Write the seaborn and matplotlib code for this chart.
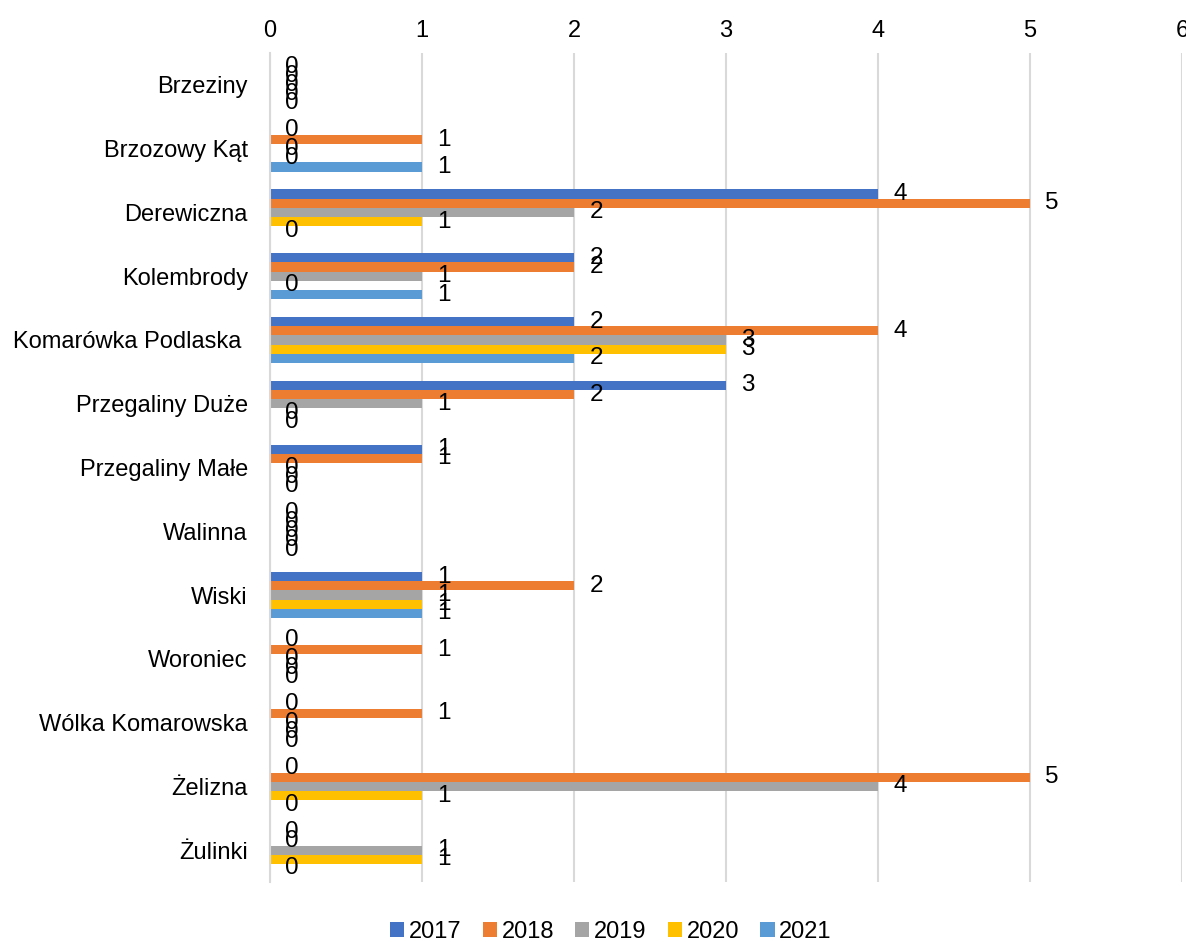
import matplotlib.pyplot as plt
import numpy   as np
import pandas  as pd
import seaborn as sns

# Values
villages = ['Brzeziny', 'Brzozowy Kąt', 'Derewiczna', 'Kolembrody',
            'Komarówka Podlaska ', 'Przegaliny Duże', 'Przegaliny Małe',
            'Walinna', 'Wiski', 'Woroniec', 'Wólka Komarowska',
            'Żelizna', 'Żulinki']
years    = ['2017', '2018', '2019', '2020', '2021']

v2017 = [0, 0, 4, 2, 2, 3, 1, 0, 1, 0, 0, 0, 0]
v2018 = [0, 1, 5, 2, 4, 2, 1, 0, 2, 1, 1, 5, 0]
v2019 = [0, 0, 2, 1, 3, 1, 0, 0, 1, 0, 0, 4, 1]
v2020 = [0, 0, 1, 0, 3, 0, 0, 0, 1, 0, 0, 1, 1]
v2021 = [0, 1, 0, 1, 2, 0, 0, 0, 1, 0, 0, 0, 0]

colors = ['#4472C4', '#ED7D31', '#A5A5A5', '#FFC000', '#5B9BD5']

# Long-form table for seaborn
series = [v2017, v2018, v2019, v2020, v2021]
df = pd.DataFrame([(v, y, s[i]) for y, s in zip(years, series)
                   for i, v in enumerate(villages)],
                  columns = ['village', 'year', 'value'])

sns.set_style('white')
plt.rcParams['font.family'] = ['Liberation Sans', 'DejaVu Sans']
plt.rcParams['font.size']   = 17
plt.rcParams['text.color']  = 'black'
plt.rcParams['xtick.color'] = 'black'
plt.rcParams['ytick.color'] = 'black'

fig = plt.figure(figsize = (11.86, 9.42), dpi = 100)
ax  = fig.add_axes([0.2277, 0.0637, 0.7689, 0.88])

sns.barplot(data       = df,
            x          = 'value',
            y          = 'village',
            hue        = 'year',
            order      = villages,
            hue_order  = years,
            palette    = colors,
            orient     = 'h',
            width      = 0.72,
            saturation = 1,
            linewidth  = 0,
            legend     = True,
            ax         = ax)

# Value labels next to each bar
for cont in ax.containers:
    ax.bar_label(cont, fmt = '%g', padding = 11, fontsize = 17.5, color = 'black')

ax.set_xlim(0, 6)
ax.set_ylim(len(villages) - 0.5, -0.5)
ax.xaxis.tick_top()
ax.set_xticks(range(7))
ax.tick_params(axis = 'x', length = 0, pad = 8, labelsize = 17)
ax.tick_params(axis = 'y', length = 0, pad = 16, labelsize = 17)
ax.set_xlabel('')
ax.set_ylabel('')

ax.grid(axis = 'x', color = '#D9D9D9', linewidth = 1.5)
ax.set_axisbelow(True)
for side in ['top', 'right', 'bottom']:
    ax.spines[side].set_visible(False)
ax.spines['left'].set_color('#D9D9D9')
ax.spines['left'].set_linewidth(1.5)

handles, labels = ax.get_legend_handles_labels()
ax.get_legend().remove()
fig.legend(handles, labels,
           loc            = 'center',
           bbox_to_anchor = (0.515, 0.011),
           ncol           = 5,
           frameon        = False,
           fontsize       = 17,
           handlelength   = 0.6,
           handleheight   = 0.6,
           handletextpad  = 0.2,
           columnspacing  = 0.9)

fig.savefig('out.png', dpi = 100)
